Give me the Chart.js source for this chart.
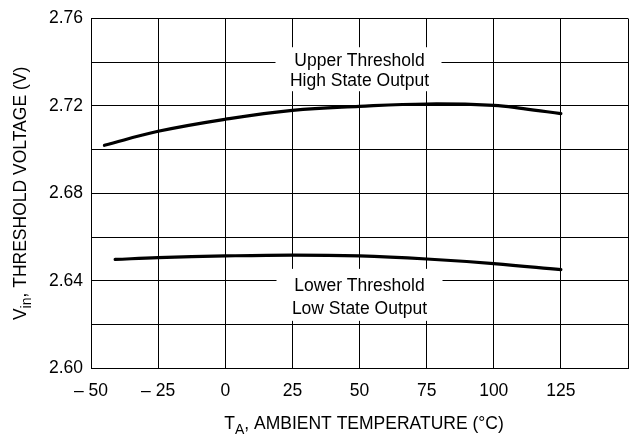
<!DOCTYPE html>
<html>
<head>
<meta charset="utf-8">
<style>
html,body{margin:0;padding:0;background:#fff;overflow:hidden;width:631px;height:439px;}
canvas{display:block;}
</style>
<script src="https://cdn.jsdelivr.net/npm/chart.js@4/dist/chart.umd.min.js"></script>
</head>
<body>
<canvas id="c" width="640" height="439" style="width:640px;height:439px"></canvas>
<script>
// Data
const upperTemps = [-45, -25, 0, 25, 50, 75, 100, 111, 125];
const upperVolts = [2.702, 2.7084, 2.7139, 2.7180, 2.7198, 2.7209, 2.7203, 2.7188, 2.7165];
const lowerTemps = [-41, -25, 0, 25, 50, 75, 100, 125];
const lowerVolts = [2.6498, 2.6506, 2.6514, 2.6518, 2.6514, 2.6500, 2.6479, 2.6451];
const xTicks = [-50, -25, 0, 25, 50, 75, 100, 125];
const yTickLabels = ['2.60', '2.64', '2.68', '2.72', '2.76'];
const upperLabel = ['Upper Threshold', 'High State Output'];
const lowerLabel = ['Lower Threshold', 'Low State Output'];

const FONT = '"Liberation Sans", Arial, Helvetica, sans-serif';

function pts(xs, ys) { return xs.map((x, i) => ({ x: x, y: ys[i] })); }

const annotPlugin = {
  id: 'annot',
  beforeDatasetsDraw(chart) {
    const ctx = chart.ctx;
    const xs = chart.scales.x, ys = chart.scales.y;
    ctx.save();
    ctx.fillStyle = '#fff';
    const cx = xs.getPixelForValue(50);
    const u = ys.getPixelForValue(2.74);
    ctx.fillRect(cx - 84, u - 15, 166, 44);
    const l = ys.getPixelForValue(2.64);
    ctx.fillRect(cx - 83, l - 12, 166, 52);
    ctx.fillStyle = '#000';
    ctx.font = '17.5px ' + FONT;
    ctx.textAlign = 'center';
    ctx.textBaseline = 'middle';
    ctx.fillText(upperLabel[0], cx, u - 1.5);
    ctx.fillText(upperLabel[1], cx, u + 18.5);
    ctx.fillText(lowerLabel[0], cx, l + 5);
    ctx.fillText(lowerLabel[1], cx, l + 28.5);
    ctx.restore();
  },
  afterDraw(chart) {
    const ctx = chart.ctx;
    const ys = chart.scales.y;
    ctx.save();
    ctx.fillStyle = '#000';
    ctx.textBaseline = 'alphabetic';
    ctx.textAlign = 'left';
    const big = '17.5px ' + FONT, small = '14px ' + FONT;
    const parts = [['T', big, 0], ['A', small, 5], [', AMBIENT TEMPERATURE (°C)', big, 0]];
    let w = 0;
    parts.forEach(p => { ctx.font = p[1]; w += ctx.measureText(p[0]).width; });
    let x = 364 - w / 2;
    const base = 428.6;
    parts.forEach(p => { ctx.font = p[1]; ctx.fillText(p[0], x, base + p[2]); x += ctx.measureText(p[0]).width; });
    const yparts = [['V', big, 0], ['in', small, 5], [', THRESHOLD VOLTAGE (V)', big, 0]];
    w = 0;
    yparts.forEach(p => { ctx.font = p[1]; w += ctx.measureText(p[0]).width; });
    const cy = (ys.top + ys.bottom) / 2;
    ctx.translate(26.3, cy);
    ctx.rotate(-Math.PI / 2);
    x = -w / 2;
    yparts.forEach(p => { ctx.font = p[1]; ctx.fillText(p[0], x, p[2]); x += ctx.measureText(p[0]).width; });
    ctx.restore();
  }
};

new Chart(document.getElementById('c'), {
  type: 'line',
  data: {
    datasets: [
      { data: pts(upperTemps, upperVolts), borderColor: '#000', borderWidth: 3.2, pointRadius: 0, tension: 0.4, fill: false, borderCapStyle: 'round' },
      { data: pts(lowerTemps, lowerVolts), borderColor: '#000', borderWidth: 3.2, pointRadius: 0, tension: 0.4, fill: false, borderCapStyle: 'round' }
    ]
  },
  options: {
    responsive: false,
    animation: false,
    devicePixelRatio: 1,
    layout: { padding: { top: 18.3, right: 5.5, left: 0, bottom: 0 } },
    plugins: { legend: { display: false }, tooltip: { enabled: false }, title: { display: false } },
    scales: {
      x: {
        type: 'linear', min: -50, max: 150,
        afterFit(s) { s.height = 70.7; },
        afterBuildTicks(s) { s.ticks = xTicks.concat([150]).map(v => ({ value: v })); },
        grid: { color: '#000', lineWidth: 1, drawTicks: false },
        border: { color: '#000', width: 1 },
        ticks: {
          autoSkip: false, maxRotation: 0, padding: 12, color: '#000',
          font: { size: 17.5, family: FONT },
          callback(v) { if (v > 125) return ''; return v < 0 ? '\u2013 ' + Math.abs(v) : String(v); }
        }
      },
      y: {
        type: 'linear', min: 2.60, max: 2.76,
        afterFit(s) { s.width = 91; },
        afterBuildTicks(s) { const t = []; for (let i = 0; i <= 8; i++) t.push({ value: 2.60 + i * 0.02 }); s.ticks = t; },
        grid: { color: '#000', lineWidth: 1, drawTicks: false },
        border: { color: '#000', width: 1 },
        ticks: {
          autoSkip: false, padding: 8, color: '#000',
          font: { size: 17.5, family: FONT },
          callback(v, i) { return i % 2 === 0 ? yTickLabels[i / 2] : ''; }
        }
      }
    }
  },
  plugins: [annotPlugin]
});
</script>
</body>
</html>
